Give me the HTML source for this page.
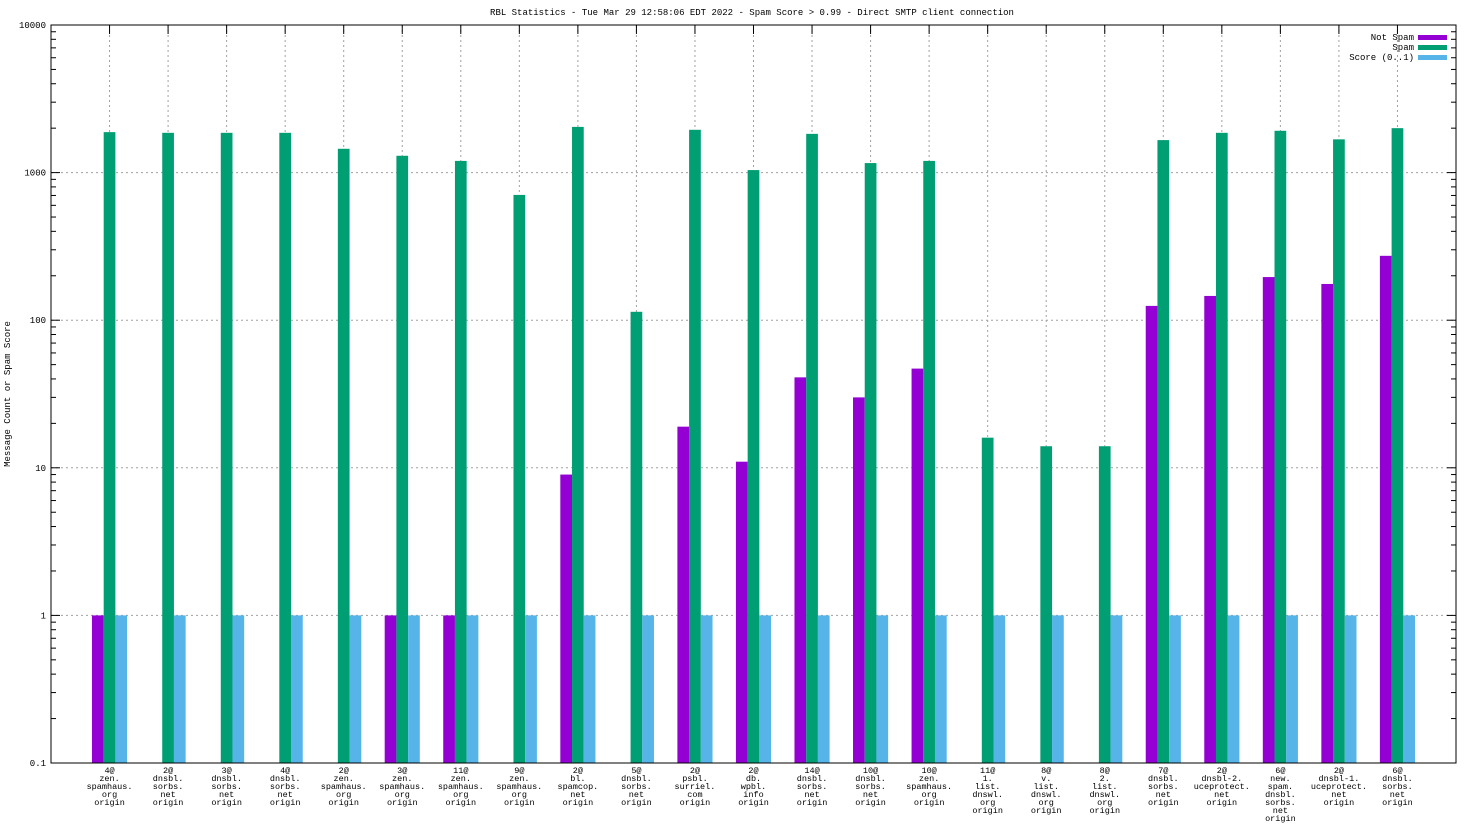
<!DOCTYPE html>
<html><head><meta charset="utf-8"><style>
body{margin:0;background:#fff}
svg{display:block;font-family:"Liberation Mono","DejaVu Sans Mono",monospace}
</style></head><body>
<svg id="chart" width="1472" height="828" viewBox="0 0 1472 828">
<text x="752" y="15" font-size="9" text-anchor="middle">RBL Statistics - Tue Mar 29 12:58:06 EDT 2022 - Spam Score &gt; 0.99 - Direct SMTP client connection</text>
<text transform="translate(10,394) rotate(-90)" font-size="9" text-anchor="middle">Message Count or Spam Score</text>
<g id="grid"></g>
<g id="bars"></g>
<g id="axes"></g>
<g font-size="9">
<text x="1414" y="40" text-anchor="end">Not Spam</text>
<rect x="1418" y="35" width="29" height="5" fill="#9400d3"/>
<text x="1414" y="50" text-anchor="end">Spam</text>
<rect x="1418" y="45" width="29" height="5" fill="#009e73"/>
<text x="1414" y="60" text-anchor="end">Score (0..1)</text>
<rect x="1418" y="55" width="29" height="5" fill="#56b4e9"/>
</g>
</svg>
<script>
const categories=[
["4@","zen.","spamhaus.","org","origin"],["2@","dnsbl.","sorbs.","net","origin"],["3@","dnsbl.","sorbs.","net","origin"],["4@","dnsbl.","sorbs.","net","origin"],["2@","zen.","spamhaus.","org","origin"],["3@","zen.","spamhaus.","org","origin"],["11@","zen.","spamhaus.","org","origin"],["9@","zen.","spamhaus.","org","origin"],["2@","bl.","spamcop.","net","origin"],["5@","dnsbl.","sorbs.","net","origin"],["2@","psbl.","surriel.","com","origin"],["2@","db.","wpbl.","info","origin"],["14@","dnsbl.","sorbs.","net","origin"],["10@","dnsbl.","sorbs.","net","origin"],["10@","zen.","spamhaus.","org","origin"],["11@","1.","list.","dnswl.","org","origin"],["8@","v.","list.","dnswl.","org","origin"],["8@","2.","list.","dnswl.","org","origin"],["7@","dnsbl.","sorbs.","net","origin"],["2@","dnsbl-2.","uceprotect.","net","origin"],["6@","new.","spam.","dnsbl.","sorbs.","net","origin"],["2@","dnsbl-1.","uceprotect.","net","origin"],["6@","dnsbl.","sorbs.","net","origin"]];
const notSpam=[1,0,0,0,0,1,1,0,9,0,19,11,41,30,47,0,0,0,125,146,196,176,273];
const spam=[1880,1860,1860,1860,1450,1300,1200,706,2040,114,1950,1040,1830,1160,1200,16,14,14,1660,1860,1920,1680,2000];
const score=[1,1,1,1,1,1,1,1,1,1,1,1,1,1,1,1,1,1,1,1,1,1,1];
const yTicks=[0.1,1,10,100,1000,10000];
const yTickLabels=["0.1","1","10","100","1000","10000"];
const NS="http://www.w3.org/2000/svg";
const L=51,R=1456,T=25,B=763;
const xS=i=>L+(i+1)*(R-L)/24;
const yS=v=>B-(Math.log10(v)+1)*(B-T)/5;
function mk(tag,at,parent){const e=document.createElementNS(NS,tag);for(const k in at)e.setAttribute(k,at[k]);document.getElementById(parent).appendChild(e);return e;}
const unit=(R-L)/24, bw=unit*0.2;
categories.forEach((c,i)=>{const e=mk('line',{x1:xS(i),x2:xS(i),y1:T,y2:B,stroke:'#a0a0a0','stroke-dasharray':'2,3','stroke-width':1},'grid');

});
yTicks.forEach((v,k)=>{if(k>0&&k<yTicks.length-1){const e=mk('line',{x1:L,x2:R,y1:yS(v),y2:yS(v),stroke:'#a0a0a0','stroke-dasharray':'2,3','stroke-width':1},'grid');

}});
const series=[[notSpam,'#9400d3',-1,'not-spam'],[spam,'#009e73',0,'spam'],[score,'#56b4e9',1,'score']];
series.forEach(([vals,col,off,nm])=>{vals.forEach((v,i)=>{if(v<=0.1)return;const x=xS(i)+off*bw-bw/2;const y=yS(v);
const e=mk('rect',{x:x,y:y,width:bw,height:B-y,fill:col},'bars');

});});
const fr=mk('rect',{x:L,y:T,width:R-L,height:B-T,fill:'none',stroke:'#000','stroke-width':1},'axes');


yTicks.forEach((v,k)=>{const y=yS(v);
[[L,L+9],[R,R-9]].forEach(([a,b])=>{const t=mk('line',{x1:a,x2:b,y1:y,y2:y,stroke:'#000'},'axes');

});
const lb=mk('text',{x:L-5,y:y+3,'font-size':9,'text-anchor':'end'},'axes');lb.textContent=yTickLabels[k];


if(k<yTicks.length-1){for(let m=2;m<10;m++){const ym=yS(v*m);[[L,L+5],[R,R-5]].forEach(([a,b])=>{const t=mk('line',{x1:a,x2:b,y1:ym,y2:ym,stroke:'#000'},'axes');

});}}});
categories.forEach((c,i)=>{const x=xS(i);
const t=mk('line',{x1:x,x2:x,y1:T,y2:T+9,stroke:'#000'},'axes');


c.forEach((s,j)=>{const tx=mk('text',{x:x,y:B+10+j*8,'font-size':8.5,'text-anchor':'middle'},'axes');tx.textContent=s;

});});
</script>
</body></html>
